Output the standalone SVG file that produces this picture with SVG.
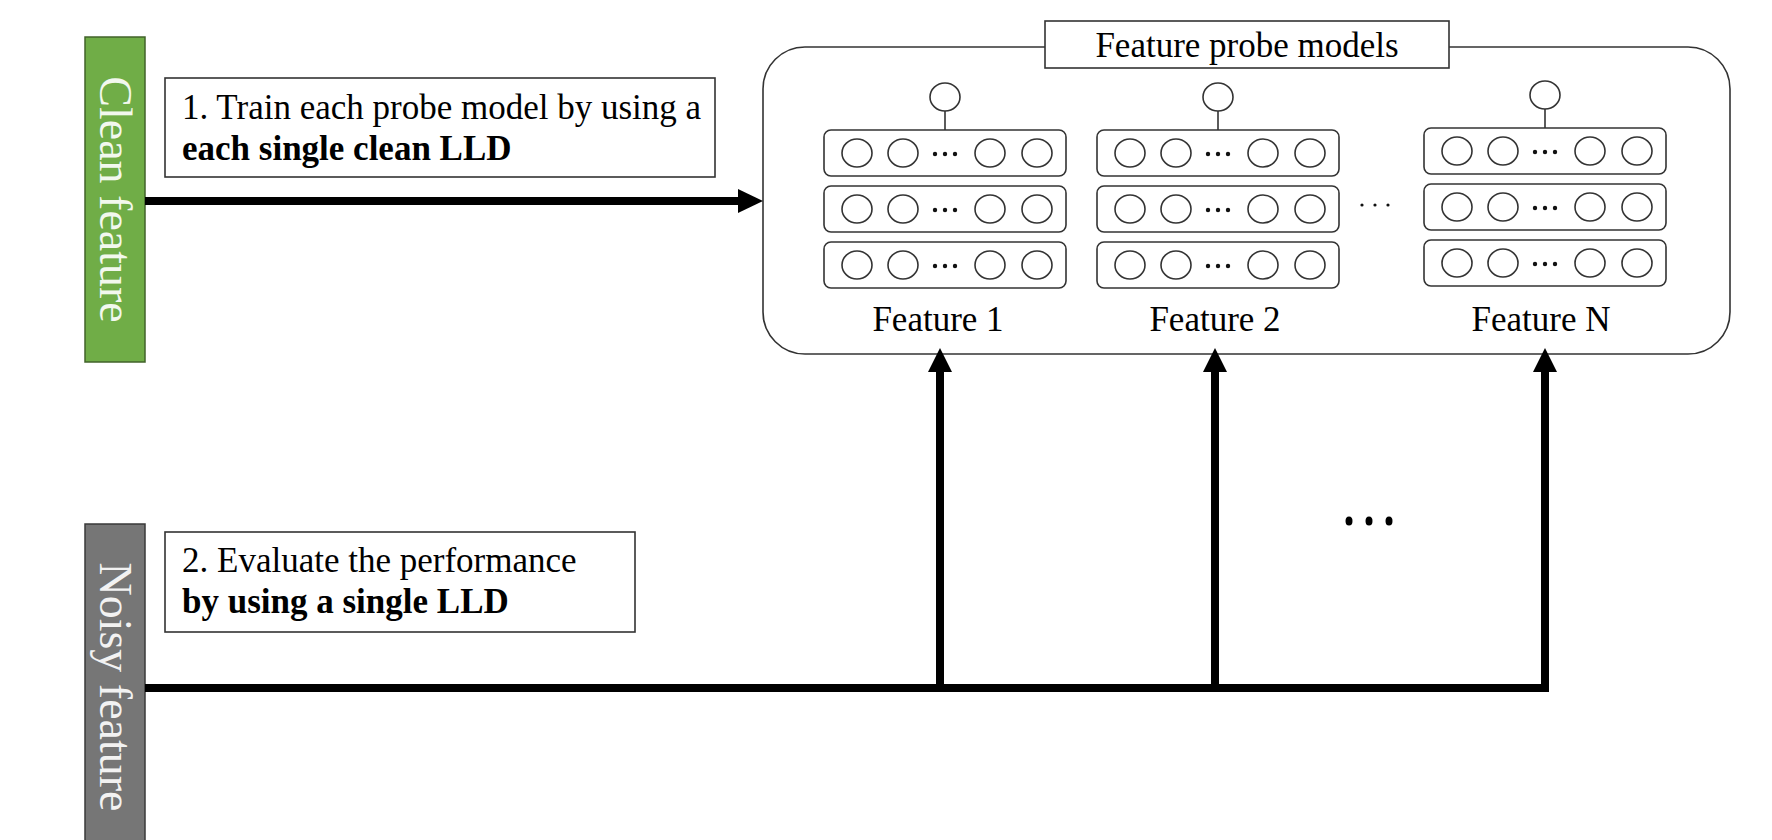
<svg xmlns="http://www.w3.org/2000/svg" width="1772" height="840" viewBox="0 0 1772 840">
<defs>
<style>
.t{font-family:"Liberation Serif","Times New Roman",serif;font-size:35px;fill:#000}
.b{font-weight:bold}
.side{font-family:"Liberation Serif","Times New Roman",serif;font-size:46px;text-anchor:middle}
.row{fill:#fff;stroke:#333;stroke-width:1.6}
.n{fill:#fff;stroke:#333;stroke-width:1.6}
.d{fill:#111}
.box{fill:#fff;stroke:#333;stroke-width:1.6}
.conn{fill:none;stroke:#000;stroke-width:8}
</style>
<g id="layer">
<rect class="row" x="0" y="0" width="242" height="46" rx="7"/>
<ellipse class="n" cx="33" cy="23" rx="15" ry="14"/>
<ellipse class="n" cx="79" cy="23" rx="15" ry="14"/>
<circle class="d" cx="111" cy="24" r="2.2"/>
<circle class="d" cx="121" cy="24" r="2.2"/>
<circle class="d" cx="131" cy="24" r="2.2"/>
<ellipse class="n" cx="166" cy="23" rx="15" ry="14"/>
<ellipse class="n" cx="213" cy="23" rx="15" ry="14"/>
</g>
<g id="model">
<ellipse class="n" cx="121" cy="-33" rx="15" ry="14"/>
<line x1="121" y1="-19" x2="121" y2="0" stroke="#333" stroke-width="1.6"/>
<use href="#layer" x="0" y="0"/>
<use href="#layer" x="0" y="56"/>
<use href="#layer" x="0" y="112"/>
</g>
</defs>
<rect width="1772" height="840" fill="#fff"/>

<g id="clean-feature">
<rect x="85" y="37" width="60" height="325" fill="#70AD47" stroke="#41632A" stroke-width="1.5"/>
<text class="side" fill="#F2F8EE" transform="translate(100,199.5) rotate(90)">Clean feature</text>
</g>

<g id="noisy-feature">
<rect x="85" y="524" width="60" height="330" fill="#767676" stroke="#3A3A3A" stroke-width="1.5"/>
<text class="side" fill="#F2F2F2" transform="translate(100,687) rotate(90)">Noisy feature</text>
</g>

<g id="step1">
<rect class="box" x="165" y="78" width="550" height="99"/>
<text class="t" x="182" y="119">1. Train each probe model by using a</text>
<text class="t b" x="182" y="160">each single clean LLD</text>
</g>

<g id="step2">
<rect class="box" x="165" y="532" width="470" height="100"/>
<text class="t" x="182" y="572">2. Evaluate the performance</text>
<text class="t b" x="182" y="613">by using a single LLD</text>
</g>

<g id="probe-models">
<rect x="763" y="47" width="967" height="307" rx="42" fill="#fff" stroke="#333" stroke-width="1.6"/>
<rect class="box" x="1045" y="21" width="404" height="47"/>
<text class="t" x="1247" y="57" text-anchor="middle">Feature probe models</text>
</g>

<g id="feature-1">
<use href="#model" x="824" y="130"/>
<text class="t" x="938" y="331" text-anchor="middle">Feature 1</text>
</g>

<g id="feature-2">
<use href="#model" x="1097" y="130"/>
<text class="t" x="1215" y="331" text-anchor="middle">Feature 2</text>
</g>

<g id="feature-ellipsis">
<circle class="d" cx="1362" cy="205" r="1.6"/>
<circle class="d" cx="1375" cy="205" r="1.6"/>
<circle class="d" cx="1388" cy="205" r="1.6"/>
</g>

<g id="feature-n">
<use href="#model" x="1424" y="128"/>
<text class="t" x="1541" y="331" text-anchor="middle">Feature N</text>
</g>

<g id="arrow-ellipsis">
<ellipse cx="1349" cy="521" rx="3.5" ry="4.5" fill="#000"/>
<ellipse cx="1369" cy="521" rx="3.5" ry="4.5" fill="#000"/>
<ellipse cx="1389" cy="521" rx="3.5" ry="4.5" fill="#000"/>
</g>

<g id="connectors">
<line class="conn" x1="145" y1="201" x2="740" y2="201"/>
<polygon points="738,189 763,201 738,213" fill="#000"/>
<polyline class="conn" points="145,688 1545,688 1545,370"/>
<line class="conn" x1="940" y1="688" x2="940" y2="370"/>
<line class="conn" x1="1215" y1="688" x2="1215" y2="370"/>
<polygon points="928,372 940,348 952,372" fill="#000"/>
<polygon points="1203,372 1215,348 1227,372" fill="#000"/>
<polygon points="1533,372 1545,348 1557,372" fill="#000"/>
</g>
</svg>
